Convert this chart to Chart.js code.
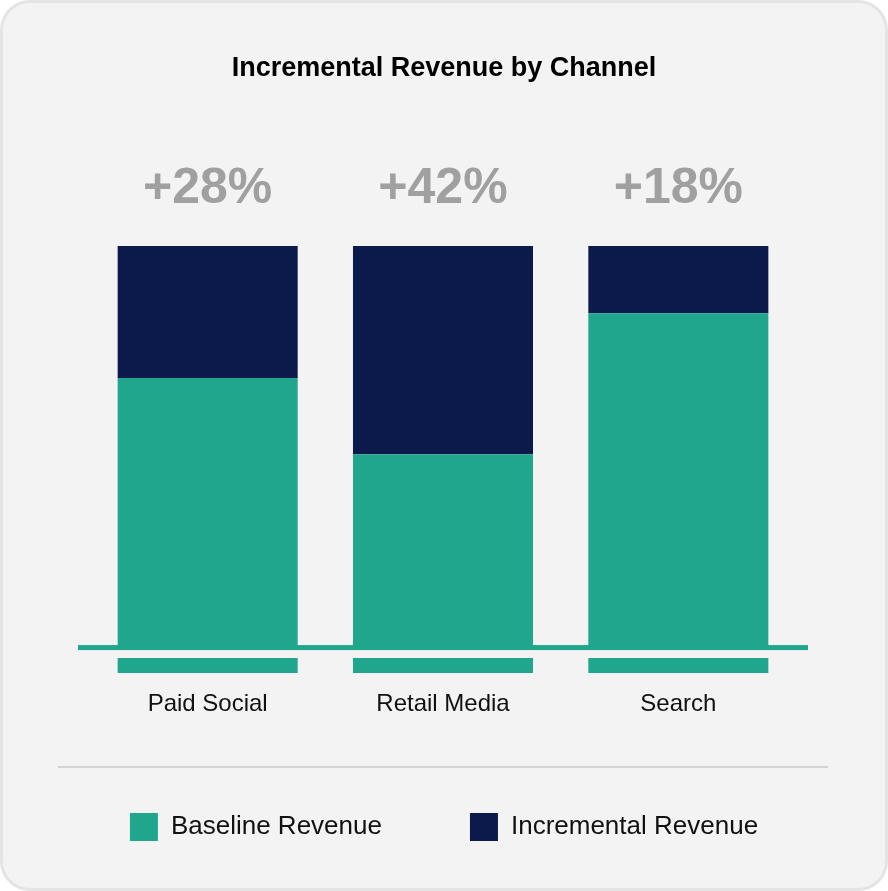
<!DOCTYPE html>
<html>
<head>
<meta charset="utf-8">
<script src="https://cdn.jsdelivr.net/npm/chart.js@4/dist/chart.umd.min.js"></script>
<style>
  html, body { margin: 0; padding: 0; background: #ffffff; }
  #card {
    position: absolute; left: 0; top: 0; width: 888px; height: 891px;
    box-sizing: border-box; border: 3px solid #e4e4e4; border-radius: 30px;
    background: #f3f3f3;
  }
  #wrap { position: absolute; left: 0; top: 0; width: 888px; height: 891px; }
</style>
</head>
<body>
<div id="card"></div>
<div id="wrap"><canvas id="myChart"></canvas></div>
<script>
// share of each bar (percent of total revenue)
var channels = ["Paid Social", "Retail Media", "Search"];
var baseline = [67.2, 48.2, 83.3];
var incremental = [32.8, 51.8, 16.7];
// lift shown above each bar
var lift = [28, 42, 18];
// short piece of the baseline bar drawn under the axis rule
var underGap = [-2.5, -2.5, -2.5];
var underStub = [-3.7, -3.7, -3.7];

var TEAL = '#21a68e';
var NAVY = '#0b1a4b';
var FONT = '"Liberation Sans", Arial, Helvetica, sans-serif';

var decor = {
  id: 'decor',
  afterDatasetsDraw: function(chart) {
    var ctx = chart.ctx, a = chart.chartArea;
    var x = chart.scales.x, y = chart.scales.y;
    var y0 = y.getPixelForValue(0);
    ctx.save();
    // axis rule
    ctx.fillStyle = TEAL;
    ctx.fillRect(a.left - 12, y0 - 3, a.right - a.left + 24, 5);
    // lift labels
    ctx.font = 'bold 50px ' + FONT;
    ctx.fillStyle = '#a0a0a0';
    ctx.textAlign = 'center';
    ctx.textBaseline = 'alphabetic';
    for (var i = 0; i < lift.length; i++) {
      ctx.fillText('+' + lift[i] + '%', x.getPixelForValue(i), y.getPixelForValue(100) - 43);
    }
    // separator above legend
    var sy = chart.legend.bottom - 84;
    ctx.fillStyle = '#d4d4d4';
    ctx.fillRect(a.left - 32, sy - 1, a.right - a.left + 64, 2);
    ctx.restore();
  }
};

var hiddenSide = function(pos, w) {
  return {
    type: 'linear', position: pos, display: true,
    ticks: { display: false }, grid: { display: false }, border: { display: false },
    afterFit: function(s) { s.width = w; }
  };
};

var yScale = hiddenSide('left', 90);
yScale.stacked = true;
yScale.min = -6.2;
yScale.max = 100;

var ctx = document.getElementById('myChart').getContext('2d');
var myChart = new Chart(ctx, {
  type: 'bar',
  data: {
    labels: channels,
    datasets: [
      { label: 'Baseline Revenue', data: baseline, backgroundColor: TEAL, borderWidth: 0 },
      { label: 'Incremental Revenue', data: incremental, backgroundColor: NAVY, borderWidth: 0 },
      { label: 'gap', data: underGap, backgroundColor: 'rgba(0,0,0,0)', borderWidth: 0 },
      { label: 'stub', data: underStub, backgroundColor: TEAL, borderWidth: 0 }
    ]
  },
  options: {
    responsive: true,
    maintainAspectRatio: false,
    animation: { duration: 0 },
    layout: { padding: { top: 0, left: 0, right: 0, bottom: 40 } },
    datasets: { bar: { categoryPercentage: 1, barPercentage: 0.765 } },
    scales: {
      x: {
        stacked: true,
        grid: { display: false },
        border: { display: false },
        ticks: { padding: 9, color: '#111', font: { family: FONT, size: 24 } },
        afterFit: function(s) { s.height = 52; }
      },
      y: yScale,
      yR: hiddenSide('right', 92)
    },
    plugins: {
      title: {
        display: true,
        text: 'Incremental Revenue by Channel',
        color: '#000',
        font: { family: FONT, size: 27, weight: 'bold' },
        padding: { top: 52, bottom: 161.6 }
      },
      legend: {
        position: 'bottom',
        labels: {
          boxWidth: 28, boxHeight: 28, padding: 88, color: '#111',
          font: { family: FONT, size: 26 },
          filter: function(item) { return item.datasetIndex < 2; }
        }
      },
      tooltip: { enabled: false }
    }
  },
  plugins: [decor]
});
</script>
</body>
</html>
